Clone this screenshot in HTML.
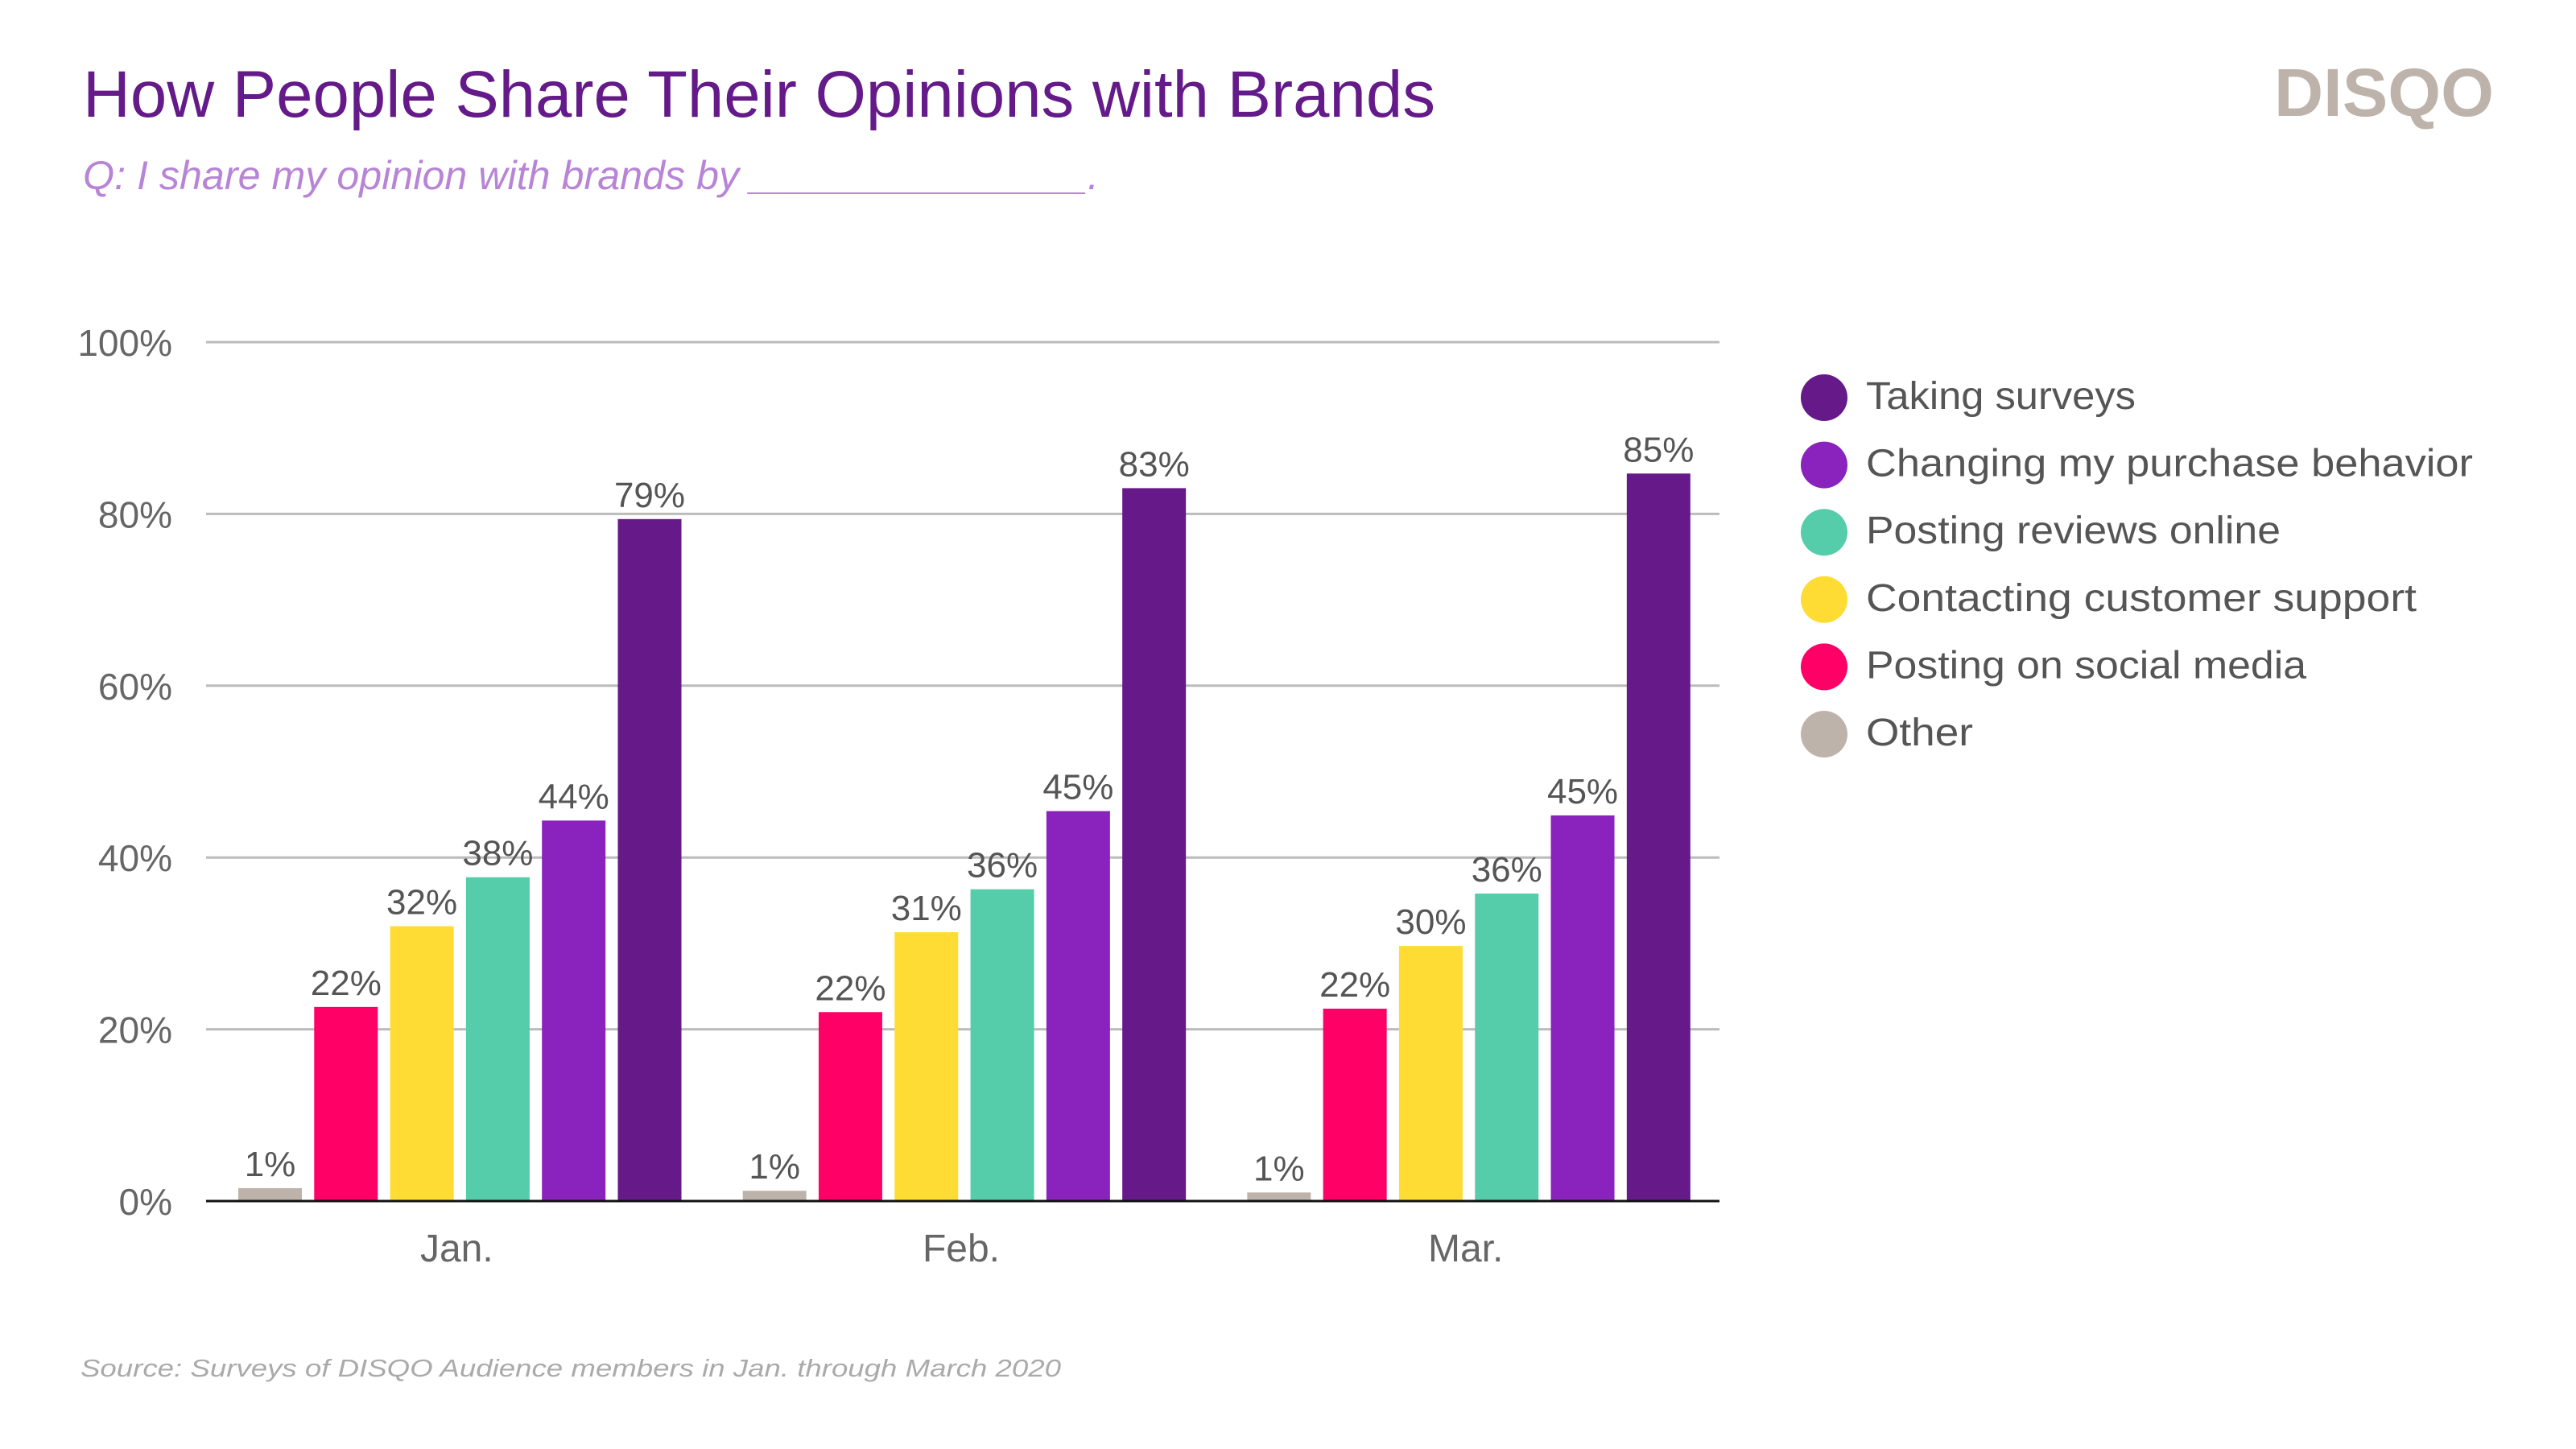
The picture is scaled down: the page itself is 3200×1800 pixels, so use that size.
<!DOCTYPE html>
<html><head><meta charset="utf-8"><style>
html,body{margin:0;padding:0;background:#fff;}
svg{display:block;font-family:"Liberation Sans",sans-serif;}
</style></head><body>
<svg id="chart" width="3200" height="1800" viewBox="0 0 3200 1800" xmlns="http://www.w3.org/2000/svg">
<rect width="3200" height="1800" fill="#fff"/>
<text x="103" y="145" font-size="82" fill="#651a8a" textLength="1680" lengthAdjust="spacingAndGlyphs">How People Share Their Opinions with Brands</text>
<text x="103" y="235" font-size="50" font-style="italic" fill="#b884d6" textLength="1262" lengthAdjust="spacingAndGlyphs">Q: I share my opinion with brands by _______________.</text>
<text x="2825" y="144" font-size="84" font-weight="bold" fill="#bdb3aa" textLength="273" lengthAdjust="spacingAndGlyphs">DISQO</text>
<text x="100" y="1710" font-size="31" font-style="italic" fill="#aaa" textLength="1218" lengthAdjust="spacingAndGlyphs">Source: Surveys of DISQO Audience members in Jan. through March 2020</text>
<g id="plot"></g>
<g id="legend"></g>
</svg>
<script>
const categories = ["Jan.", "Feb.", "Mar."];
const seriesNames = ["Other", "Posting on social media", "Contacting customer support", "Posting reviews online", "Changing my purchase behavior", "Taking surveys"];
const seriesColors = ["#bdb3aa", "#ff0066", "#ffdc33", "#55cdaa", "#8a22bd", "#661a8a"];
const otherVals = [1.5, 1.2, 1.0];
const socialVals = [22.6, 22.0, 22.4];
const supportVals = [32.0, 31.3, 29.7];
const reviewsVals = [37.7, 36.3, 35.8];
const purchaseVals = [44.3, 45.4, 44.9];
const surveysVals = [79.4, 83.0, 84.7];
const otherLabels = ["1%", "1%", "1%"];
const socialLabels = ["22%", "22%", "22%"];
const supportLabels = ["32%", "31%", "30%"];
const reviewsLabels = ["38%", "36%", "36%"];
const purchaseLabels = ["44%", "45%", "45%"];
const surveysLabels = ["79%", "83%", "85%"];
const yTicks = [0, 20, 40, 60, 80, 100];
const yTickLabels = ["0%", "20%", "40%", "60%", "80%", "100%"];
const legendOrder = [5, 4, 3, 2, 1, 0];
const legendWidths = [133, 547, 684, 515, 754, 335];

const series = [otherVals, socialVals, supportVals, reviewsVals, purchaseVals, surveysVals];
const labels = [otherLabels, socialLabels, supportLabels, reviewsLabels, purchaseLabels, surveysLabels];
const NS = "http://www.w3.org/2000/svg";
const L = 256, R = 2136, Y0 = 1492, Y100 = 425;
const groupW = (R - L) / categories.length;
const barW = 79, barStep = 94.3, firstOff = 40;
const y = v => Y0 - (v / 100) * (Y0 - Y100);
const xBar = (c, s) => L + c * groupW + firstOff + s * barStep;
const plot = document.getElementById("plot");
function mk(tag, attrs, parent) {
  const e = document.createElementNS(NS, tag);
  for (const k in attrs) e.setAttribute(k, attrs[k]);
  parent.appendChild(e);
  return e;
}
yTicks.forEach((t, i) => {
  if (t > 0) {
    const g = mk("line", {x1: L, x2: R, y1: y(t), y2: y(t), stroke: "#bbb", "stroke-width": 3}, plot);
    
    
  }
  const tx = mk("text", {x: 214, y: y(t) + 17, "text-anchor": "end", "font-size": 46, fill: "#666"}, plot);
  tx.textContent = yTickLabels[i];
  
  
});
series.forEach((vals, s) => {
  vals.forEach((v, c) => {
    const r = mk("rect", {x: xBar(c, s), y: y(v), width: barW, height: Y0 - y(v), fill: seriesColors[s]}, plot);
    
    
    const t = mk("text", {x: xBar(c, s) + barW / 2, y: y(v) - 15, "text-anchor": "middle", "font-size": 44, fill: "#555"}, plot);
    t.textContent = labels[s][c];
    
    
  });
});
const axis = mk("line", {x1: L, x2: R, y1: Y0, y2: Y0, stroke: "#111", "stroke-width": 3}, plot);


categories.forEach((cat, c) => {
  const t = mk("text", {x: L + (c + 0.5) * groupW - 2, y: 1567, "text-anchor": "middle", "font-size": 48, fill: "#666"}, plot);
  t.textContent = cat;
  
  
});
const legend = document.getElementById("legend");
legendOrder.forEach((s, i) => {
  const cy = 494 + i * 83.6;
  const c = mk("circle", {cx: 2266, cy: cy, r: 29, fill: seriesColors[s]}, legend);
  
  
  const t = mk("text", {x: 2318, y: cy + 14, "font-size": 48, fill: "#555", textLength: legendWidths[s], lengthAdjust: "spacingAndGlyphs"}, legend);
  t.textContent = seriesNames[s];
  
  
});
</script>
</body></html>
